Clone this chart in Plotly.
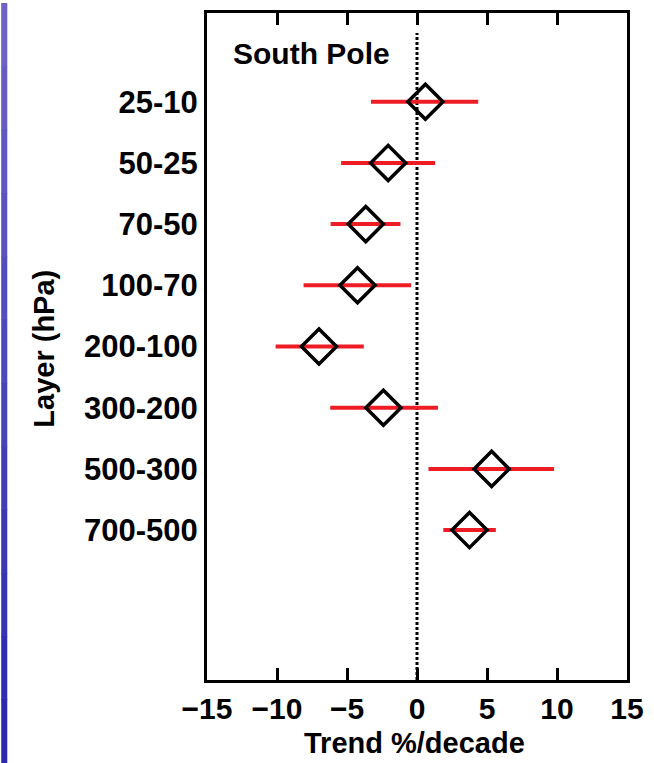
import plotly.graph_objects as go

layers = ["25-10", "50-25", "70-50", "100-70", "200-100", "300-200", "500-300", "700-500"]
trend = [0.6, -2.06, -3.66, -4.25, -7.0, -2.4, 5.33, 3.75]
low = [-3.29, -5.42, -6.17, -8.1, -10.1, -6.2, 0.82, 1.88]
high = [4.37, 1.29, -1.18, -0.42, -3.8, 1.5, 9.79, 5.63]
x_ticks = [-15, -10, -5, 0, 5, 10, 15]
y_major_ticks = [0, 2, 4, 6, 8]

ypos = list(range(len(layers)))
err_plus = [h - t for h, t in zip(high, trend)]
err_minus = [t - l for t, l in zip(trend, low)]

FONT = "Liberation Sans, Arial, sans-serif"
YRANGE = [9.45, -1.45]

fig = go.Figure()
fig.add_trace(go.Scatter(
    x=trend, y=ypos, mode="markers",
    marker=dict(symbol="diamond-open", size=27, color="black",
                line=dict(width=3.5, color="black")),
    error_x=dict(type="data", symmetric=False, array=err_plus,
                 arrayminus=err_minus, color="#ee1c25", thickness=4, width=0),
    showlegend=False, cliponaxis=False,
))

# zero reference line (dotted)
fig.add_shape(type="line", xref="x", yref="paper", x0=0, x1=0, y0=0, y1=0.97,
              line=dict(color="black", width=3, dash="3px,2px"), layer="below")

# left blue strip (decoration of slide background)
top_c = (112, 100, 200)
bot_c = (40, 40, 172)
n = 12
y_top, y_bot = 1.015, -0.124
for i in range(n):
    f = (i + 0.5) / n
    c = tuple(int(top_c[k] + (bot_c[k] - top_c[k]) * f) for k in range(3))
    fig.add_shape(type="rect", xref="paper", yref="paper",
                  x0=-0.49, x1=-0.4755,
                  y0=y_top - (y_top - y_bot) * i / n,
                  y1=y_top - (y_top - y_bot) * (i + 1) / n - 0.001,
                  line=dict(width=0), fillcolor="rgb(%d,%d,%d)" % c, layer="below")

fig.update_layout(
    width=654, height=763,
    margin=dict(l=207, r=20, t=10, b=83),
    paper_bgcolor="white", plot_bgcolor="white",
    font=dict(family=FONT, size=30, color="black"),
    xaxis=dict(range=[-15, 15], tickvals=x_ticks, ticks="inside", ticklen=12,
               tickwidth=3, tickcolor="black", showline=True, linewidth=3,
               linecolor="black", mirror="ticks", showgrid=False, zeroline=False,
               tickfont=dict(family=FONT, size=30, weight="bold"),
               fixedrange=True),
    yaxis=dict(range=YRANGE, tickvals=ypos, ticktext=layers, ticks="",
               showline=True, linewidth=3, linecolor="black", mirror=True,
               showgrid=False, zeroline=False, ticklabelstandoff=0,
               tickfont=dict(family=FONT, size=31, weight="bold"),
               fixedrange=True),
    yaxis2=dict(range=YRANGE, overlaying="y", side="left", tickvals=y_major_ticks,
                ticks="inside", ticklen=8, tickwidth=3, tickcolor="black",
                showticklabels=False, showline=True, linewidth=3, linecolor="black",
                mirror="ticks", showgrid=False, zeroline=False, fixedrange=True),
    annotations=[
        dict(text="South Pole", xref="paper", yref="paper", x=0.056, y=0.94,
             xanchor="left", yanchor="middle", showarrow=False,
             font=dict(family=FONT, size=30, weight="bold")),
        dict(text="Layer (hPa)", xref="paper", yref="paper", x=-0.39, y=0.497,
             xanchor="center", yanchor="middle", textangle=-90, showarrow=False,
             font=dict(family=FONT, size=29, weight="bold")),
        dict(text="Trend %/decade", xref="paper", yref="paper", x=0.495, y=-0.122,
             xanchor="center", yanchor="bottom", showarrow=False,
             font=dict(family=FONT, size=29, weight="bold")),
    ],
)

fig.write_html("out.html", config={"displayModeBar": False},
               post_script="document.body.style.margin='0';document.body.style.overflow='hidden';")
